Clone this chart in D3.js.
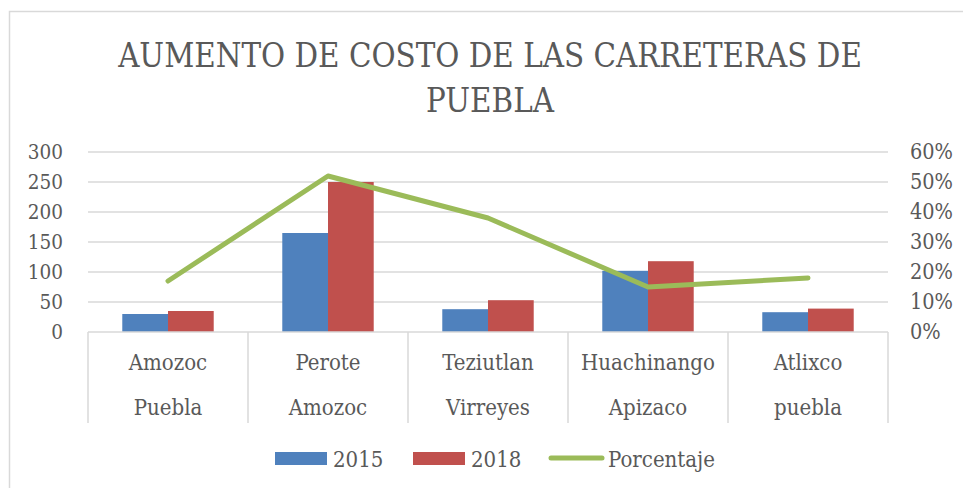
<!DOCTYPE html>
<html>
<head>
<meta charset="utf-8">
<script src="https://cdn.jsdelivr.net/npm/d3@7"></script>
<style>
  html, body { margin: 0; padding: 0; background: #fff; }
  svg { display: block; }
  text { font-family: "DejaVu Serif Condensed", "DejaVu Serif", serif; fill: #595959; }
</style>
</head>
<body>
<svg id="chart" width="963" height="488"></svg>
<script>
const titleLines = ["AUMENTO DE COSTO DE LAS CARRETERAS DE", "PUEBLA"];
const categories = [["Amozoc", "Puebla"], ["Perote", "Amozoc"], ["Teziutlan", "Virreyes"], ["Huachinango", "Apizaco"], ["Atlixco", "puebla"]];
const seriesNames = ["2015", "2018"];
const values2015 = [30, 165, 38, 102, 33];
const values2018 = [35, 250, 53, 118, 39];
const porcentaje = [0.17, 0.52, 0.38, 0.15, 0.18];
const lineName = "Porcentaje";
const leftTicks = [0, 50, 100, 150, 200, 250, 300];
const rightTicks = [0, 0.1, 0.2, 0.3, 0.4, 0.5, 0.6];
const colors = { "2015": "#4F81BD", "2018": "#C0504D", line: "#9BBB59" };

(function () {
const svg = d3.select("#chart");
const W = 963, H = 488;
svg.append("rect").attr("width", W).attr("height", H).attr("fill", "#fff");
svg.append("rect").attr("x", 9.5).attr("y", 11.5).attr("width", 1000).attr("height", 1000)
  .attr("fill", "none").attr("stroke", "#d9d9d9").attr("stroke-width", 1.5);

const pL = 88, pR = 888, pT = 152, pB = 332;
const catKeys = categories.map(c => c.join(" "));
const x = d3.scaleBand().domain(catKeys).range([pL, pR]).padding(0);
const x1 = d3.scaleBand().domain(seriesNames).range([0, x.bandwidth()]).paddingInner(0).paddingOuter(0.75);
const y = d3.scaleLinear().domain([0, 300]).range([pB, pT]);
const y2 = d3.scaleLinear().domain([0, 0.6]).range([pB, pT]);

// Title
svg.append("g").selectAll("text").data(titleLines).join("text")
  .attr("x", 490).attr("y", (d, i) => 67 + i * 45)
  .attr("text-anchor", "middle").attr("font-size", 32.7).text(d => d);

// Gridlines
svg.append("g").selectAll("line").data(leftTicks.filter(t => t > 0)).join("line")
  .attr("x1", pL).attr("x2", pR).attr("y1", d => y(d)).attr("y2", d => y(d))
  .attr("stroke", "#d9d9d9").attr("stroke-width", 1.5);

// Left axis
const yAxis = d3.axisLeft(y).tickValues(leftTicks).tickSize(0).tickPadding(0);
const gl = svg.append("g").attr("transform", "translate(63,0)").call(yAxis);
gl.select(".domain").remove();
gl.selectAll("text").attr("font-size", 20.5).attr("fill", "#595959")
  .style("font-family", "'DejaVu Serif Condensed', serif");

// Right axis
const y2Axis = d3.axisRight(y2).tickValues(rightTicks).tickSize(0).tickPadding(0).tickFormat(d3.format(".0%"));
const gr = svg.append("g").attr("transform", "translate(910,0)").call(y2Axis);
gr.select(".domain").remove();
gr.selectAll("text").attr("font-size", 21.5).attr("fill", "#595959")
  .style("font-family", "'DejaVu Serif Condensed', serif");

// Bars
const rows = catKeys.map((k, i) => ({ key: k, "2015": values2015[i], "2018": values2018[i] }));
svg.append("g").selectAll("g").data(rows).join("g")
  .attr("transform", d => `translate(${x(d.key)},0)`)
  .selectAll("rect").data(d => seriesNames.map(s => ({ s, v: d[s] }))).join("rect")
  .attr("x", d => x1(d.s)).attr("width", x1.bandwidth())
  .attr("y", d => y(d.v)).attr("height", d => y(0) - y(d.v))
  .attr("fill", d => colors[d.s]);

// Category axis
svg.append("line").attr("x1", pL).attr("x2", pR).attr("y1", pB).attr("y2", pB)
  .attr("stroke", "#d9d9d9").attr("stroke-width", 1.5);
const edges = catKeys.map(k => x(k)).concat([pR]);
svg.append("g").selectAll("line").data(edges).join("line")
  .attr("x1", d => d).attr("x2", d => d).attr("y1", pB).attr("y2", 423)
  .attr("stroke", "#d9d9d9").attr("stroke-width", 1.5);
const cg = svg.append("g").selectAll("g").data(categories).join("g");
cg.selectAll("text").data((d, i) => d.map((t, j) => ({ t, j, k: catKeys[i] }))).join("text")
  .attr("x", d => x(d.k) + x.bandwidth() / 2).attr("y", d => 370 + d.j * 45)
  .attr("text-anchor", "middle").attr("font-size", 22).text(d => d.t);

// Line
const line = d3.line().x((d, i) => x(catKeys[i]) + x.bandwidth() / 2).y(d => y2(d));
svg.append("path").datum(porcentaje).attr("d", line)
  .attr("fill", "none").attr("stroke", colors.line).attr("stroke-width", 5)
  .attr("stroke-linecap", "round").attr("stroke-linejoin", "round");

// Legend
const lg = svg.append("g");
const legendItems = [
  { name: "2015", type: "rect", x: 275, tx: 333 },
  { name: "2018", type: "rect", x: 413, tx: 471 },
  { name: lineName, type: "line", x: 551, tx: 608 }
];
legendItems.forEach(it => {
  if (it.type === "rect") {
    lg.append("rect").attr("x", it.x).attr("y", 452).attr("width", 52).attr("height", 13).attr("fill", colors[it.name]);
  } else {
    lg.append("line").attr("x1", it.x).attr("x2", it.x + 51).attr("y1", 458).attr("y2", 458)
      .attr("stroke", colors.line).attr("stroke-width", 5).attr("stroke-linecap", "round");
  }
  lg.append("text").attr("x", it.tx).attr("y", 467).attr("font-size", 22).text(it.name);
});
})();
</script>
</body>
</html>
